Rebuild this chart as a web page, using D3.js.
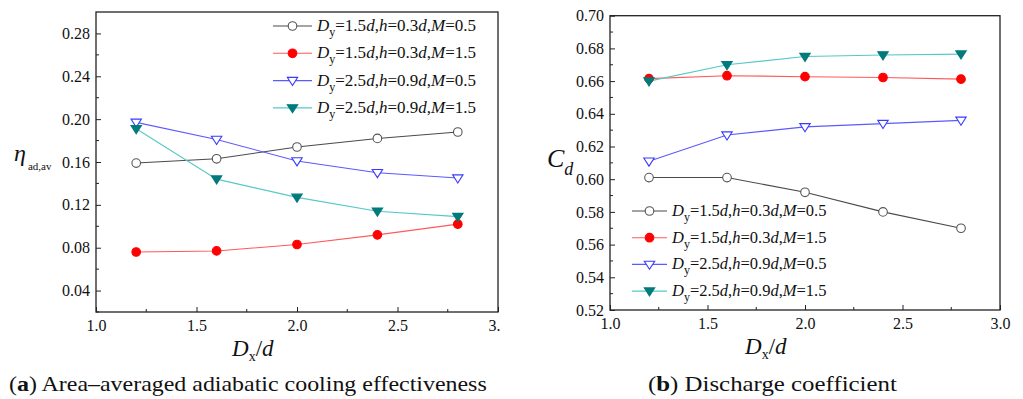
<!DOCTYPE html>
<html>
<head>
<meta charset="utf-8">
<script src="https://cdn.jsdelivr.net/npm/d3@7"></script>
<style>
  html, body { margin: 0; padding: 0; background: #fff; }
  svg { display: block; }
  text { font-family: "Liberation Serif", "Times New Roman", serif; fill: #111; }
</style>
</head>
<body>
<svg id="chart" width="1023" height="399"></svg>
<script>
// Spacing ratio Dx/d shared by both panels
const dx = [1.2, 1.6, 2.0, 2.4, 2.8];

// Series definitions (Dy, h, M)
const seriesKeys = [
  { Dy: "1.5", h: "0.3", M: "0.5" },
  { Dy: "1.5", h: "0.3", M: "1.5" },
  { Dy: "2.5", h: "0.9", M: "0.5" },
  { Dy: "2.5", h: "0.9", M: "1.5" }
];

// (a) Area-averaged adiabatic cooling effectiveness
const etaS1 = [0.159, 0.163, 0.174, 0.182, 0.188];
const etaS2 = [0.076, 0.077, 0.083, 0.092, 0.102];
const etaS3 = [0.197, 0.181, 0.161, 0.150, 0.145];
const etaS4 = [0.191, 0.144, 0.127, 0.114, 0.109];

// (b) Discharge coefficient
const cdS1 = [0.601, 0.601, 0.592, 0.580, 0.570];
const cdS2 = [0.6615, 0.6633, 0.6627, 0.6622, 0.6612];
const cdS3 = [0.611, 0.627, 0.632, 0.634, 0.636];
const cdS4 = [0.660, 0.670, 0.675, 0.676, 0.6765];

// Tick values
const xTicks = [1.0, 1.5, 2.0, 2.5, 3.0];
const etaTicks = [0.04, 0.08, 0.12, 0.16, 0.20, 0.24, 0.28];
const cdTicks = [0.52, 0.54, 0.56, 0.58, 0.60, 0.62, 0.64, 0.66, 0.68, 0.70];

// Series styling
const styles = [
  { line: "#4a4a4a", stroke: "#555555", fill: "#ffffff", shape: "circle" },
  { line: "#ff5a5a", stroke: "#ff0000", fill: "#ff0000", shape: "circle" },
  { line: "#5a5aff", stroke: "#3a3aff", fill: "#ffffff", shape: "tri" },
  { line: "#55c8c8", stroke: "#007a7a", fill: "#007a7a", shape: "tri" }
];

const svg = d3.select("#chart");
svg.append("rect").attr("width", 1023).attr("height", 399).attr("fill", "#fff");

const defs = svg.append("defs");
defs.append("clipPath").attr("id", "clipA")
  .append("rect").attr("x", 0).attr("y", 0).attr("width", 500).attr("height", 399);

function drawMarker(g, shape, cx, cy, st) {
  if (shape === "circle") {
    g.append("circle").attr("cx", cx).attr("cy", cy).attr("r", 4.3)
      .attr("fill", st.fill).attr("stroke", st.stroke).attr("stroke-width", 1.1);
  } else {
    const s = 5.2;
    g.append("path")
      .attr("d", `M${cx - s},${cy - s * 0.62}L${cx + s},${cy - s * 0.62}L${cx},${cy + s * 0.95}Z`)
      .attr("fill", st.fill).attr("stroke", st.stroke).attr("stroke-width", 1.1);
  }
}

function legendLabel(t, k) {
  t.append("tspan").attr("font-style", "italic").text("D");
  t.append("tspan").attr("font-size", "12px").attr("dy", 5).text("y");
  t.append("tspan").attr("dy", -5).text("=" + k.Dy);
  t.append("tspan").attr("font-style", "italic").text("d");
  t.append("tspan").text(",");
  t.append("tspan").attr("font-style", "italic").text("h");
  t.append("tspan").text("=" + k.h);
  t.append("tspan").attr("font-style", "italic").text("d");
  t.append("tspan").text(",");
  t.append("tspan").attr("font-style", "italic").text("M");
  t.append("tspan").text("=" + k.M);
}

function drawPanel(p) {
  const root = svg.append("g");
  if (p.clip) root.attr("clip-path", "url(#" + p.clip + ")");

  const x = d3.scaleLinear().domain([1.0, 3.0]).range([p.left, p.right]);
  const y = d3.scaleLinear().domain(p.yDomain).range([p.bottom, p.top]);

  // Bottom axis: ticks point inward, labels below
  const xAxis = d3.axisBottom(x).tickValues(xTicks).tickFormat(d3.format(".1f"))
    .tickSizeInner(-5).tickSizeOuter(0).tickPadding(8);
  const gx = root.append("g").attr("transform", `translate(0,${p.bottom})`).call(xAxis);
  const xMinor = d3.range(1.25, 3.0, 0.5);
  gx.selectAll(".minor").data(xMinor).enter().append("line").attr("class", "minor")
    .attr("x1", d => x(d)).attr("x2", d => x(d)).attr("y1", 0).attr("y2", -3)
    .attr("stroke", "#222");

  // Left axis: ticks point inward, labels to the left
  const yAxis = d3.axisLeft(y).tickValues(p.yTicks).tickFormat(d3.format(".2f"))
    .tickSizeInner(-5).tickSizeOuter(0).tickPadding(6);
  const gy = root.append("g").attr("transform", `translate(${p.left},0)`).call(yAxis);
  gy.selectAll(".minor").data(p.yMinor).enter().append("line").attr("class", "minor")
    .attr("x1", 0).attr("x2", 3).attr("y1", d => y(d)).attr("y2", d => y(d))
    .attr("stroke", "#222");

  [gx, gy].forEach(g => {
    g.select(".domain").remove();
    g.selectAll(".tick line").attr("stroke", "#222");
    g.selectAll("text").attr("font-size", "16px").attr("fill", "#111");
  });

  // Frame
  root.append("rect").attr("x", p.left).attr("y", p.top)
    .attr("width", p.right - p.left).attr("height", p.bottom - p.top)
    .attr("fill", "none").attr("stroke", "#222").attr("stroke-width", 1.3);

  // Series lines and markers
  const line = d3.line().x((d, i) => x(dx[i])).y(d => y(d));
  p.series.forEach((vals, si) => {
    const st = styles[si];
    root.append("path").datum(vals).attr("d", line)
      .attr("fill", "none").attr("stroke", st.line).attr("stroke-width", 1.1);
  });
  p.series.forEach((vals, si) => {
    const st = styles[si];
    const mg = root.append("g");
    vals.forEach((v, i) => drawMarker(mg, st.shape, x(dx[i]), y(v), st));
  });

  // Legend
  seriesKeys.forEach((k, i) => {
    const st = styles[i];
    const ly = p.legY + i * p.legStep;
    root.append("line").attr("x1", p.legX).attr("x2", p.legX + p.legLen)
      .attr("y1", ly).attr("y2", ly).attr("stroke", st.line).attr("stroke-width", 1.1);
    drawMarker(root, st.shape, p.legX + p.legLen / 2, ly, st);
    const t = root.append("text").attr("x", p.legX + p.legLen + 5).attr("y", ly + 5)
      .attr("font-size", p.legFont);
    legendLabel(t, k);
  });

  // X-axis title: Dx/d
  const xt = root.append("text").attr("x", p.xTitleX).attr("y", p.bottom + 44)
    .attr("font-size", "23px");
  xt.append("tspan").attr("font-style", "italic").text("D");
  xt.append("tspan").attr("font-size", "14px").attr("dy", 5).text("x");
  xt.append("tspan").attr("dy", -5).text("/");
  xt.append("tspan").attr("font-style", "italic").text("d");

  p.yTitle(root);

  // Caption, stretched horizontally to the panel's caption width
  const cap = svg.append("text").attr("x", 0).attr("y", 0)
    .attr("font-size", "21px");
  cap.append("tspan").text("(");
  cap.append("tspan").attr("font-weight", "bold").text(p.capTag);
  cap.append("tspan").text(") " + p.capText);
  const w = cap.node().getComputedTextLength();
  const sx = p.capWidth / w;
  cap.attr("transform", `translate(${p.capX},391) scale(${sx},1)`);
}

drawPanel({
  left: 96, right: 498, top: 12, bottom: 312,
  yDomain: [0.02, 0.30], yTicks: etaTicks, yMinor: d3.range(0.02, 0.30, 0.04).map(v => +v.toFixed(2)),
  series: [etaS1, etaS2, etaS3, etaS4],
  legX: 273, legLen: 39, legY: 26, legStep: 27.3, legFont: "17px",
  xTitleX: 232,
  clip: "clipA",
  capX: 9, capWidth: 478, capTag: "a", capText: "Area\u2013averaged adiabatic cooling effectiveness",
  yTitle: g => {
    const t = g.append("text").attr("x", 14).attr("y", 161).attr("font-size", "24px");
    t.append("tspan").attr("font-style", "italic").text("\u03b7");
    t.append("tspan").attr("font-size", "11px").attr("dx", 2).attr("dy", 9).text("ad,av");
  }
});

drawPanel({
  left: 610, right: 1000, top: 15.7, bottom: 310,
  yDomain: [0.52, 0.70], yTicks: cdTicks, yMinor: d3.range(0.53, 0.70, 0.02).map(v => +v.toFixed(2)),
  series: [cdS1, cdS2, cdS3, cdS4],
  legX: 632, legLen: 35, legY: 211, legStep: 26.7, legFont: "16.5px",
  xTitleX: 745,
  clip: null,
  capX: 648, capWidth: 249, capTag: "b", capText: "Discharge coefficient",
  yTitle: g => {
    const t = g.append("text").attr("x", 547).attr("y", 167).attr("font-size", "26px");
    t.append("tspan").attr("font-style", "italic").text("C");
    t.append("tspan").attr("font-style", "italic").attr("font-size", "18px").attr("dy", 8).text("d");
  }
});
</script>
</body>
</html>
